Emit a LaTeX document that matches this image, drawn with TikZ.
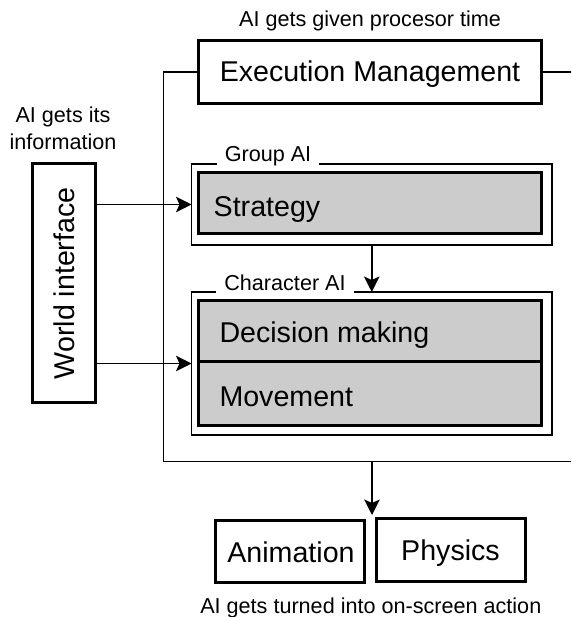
\documentclass[tikz,border=0pt]{standalone}
\usepackage{fontspec}
\setmainfont{Liberation Sans}
\usetikzlibrary{arrows.meta}
\definecolor{boxgray}{HTML}{CCCCCC}
\begin{document}
\begin{tikzpicture}[x=1pt,y=-1pt,
  thickbox/.style={draw,line width=3pt,inner sep=0pt,outer sep=0pt},
  openbox/.style={draw=none,inner sep=0pt,outer sep=0pt},
  thinline/.style={line width=1.5pt},
  big/.style={font=\fontsize{28.6}{32}\selectfont,inner sep=0pt,outer sep=0pt},
  small/.style={font=\fontsize{21.6}{26}\selectfont,inner sep=0pt,outer sep=0pt},
  boxlabel/.style={small,inner xsep=8pt},
  arr/.style={thinline,-{Stealth[length=15.5pt,width=15.5pt,inset=3.5pt]}}
]
\useasboundingbox (0,0) rectangle (571,617);

% top label and execution box
\node[small,anchor=base] (toplbl) at (370,26.7) {AI gets given procesor time};
\node[thickbox,minimum width=342.3pt,minimum height=62.5pt] (exec) at (370,72) {};
\node[big,anchor=base] (exect) at (370,82) {Execution Management};

% outer frame
\coordinate (fbl) at (163.3,461.7);
\coordinate (fbr) at (571,461.7);
\coordinate (fmid) at (372,461.7);
\coordinate (aend) at (372,515);
\draw[thinline] (exec.west) -| (fbl) -- (fbr);
\draw[thinline] (exec.east) -- (exec.east -| fbr);

% group AI
\node[openbox,minimum width=360.5pt,minimum height=81pt] (gout) at (371.75,204.5) {};
\node[boxlabel,anchor=base] (glbl) at (268,162) {Group AI};
\draw[thinline] (glbl.west |- gout.north) -- (gout.north west) -- (gout.south west)
  -- (gout.south east) -- (gout.north east) -- (glbl.east |- gout.north);
\node[thickbox,fill=boxgray,minimum width=343pt,minimum height=61pt] (strat) at (370.2,203.5) {};
\node[big,anchor=base west] (stratt) at (213.7,216.5) {Strategy};

% character AI
\node[openbox,minimum width=360.5pt,minimum height=143pt] (cout) at (371.75,363.5) {};
\node[boxlabel,anchor=base] (clbl) at (285,290) {Character AI};
\draw[thinline] (clbl.west |- cout.north) -- (cout.north west) -- (cout.south west)
  -- (cout.south east) -- (cout.north east) -- (clbl.east |- cout.north);
\node[thickbox,fill=boxgray,minimum width=343pt,minimum height=61.5pt] (dec) at (370.2,330.75) {};
\node[thickbox,fill=boxgray,minimum width=343pt,minimum height=63.5pt] (mov) at (370.2,393.25) {};
\node[big,anchor=base west] (dect) at (219.5,342.5) {Decision making};
\node[big,anchor=base west] (movt) at (219.5,406) {Movement};

% world interface
\node[small,anchor=base] (info1) at (63,123) {AI gets its};
\node[small,anchor=base] (info2) at (63,149.3) {information};
\node[thickbox,minimum width=62.5pt,minimum height=238.3pt] (world) at (64,282.85) {};
\node[big,rotate=90] (worldt) at (64,283.3) {World interface};

% animation / physics
\node[thickbox,minimum width=148.9pt,minimum height=62.4pt] (anim) at (290.25,551.5) {};
\node[big,anchor=base] (animt) at (291,562.7) {Animation};
\node[thickbox,minimum width=149pt,minimum height=62.6pt] (phys) at (450.5,550) {};
\node[big,anchor=base] (physt) at (450.5,560) {Physics};
\node[small,anchor=base] (botlbl) at (370.8,613) {AI gets turned into on-screen action};

% connectors
\draw[arr] (world.east |- gout.west) -- (gout.west);
\draw[arr] (world.east |- cout.west) -- (cout.west);
\draw[arr] (gout.south) -- (cout.north);
\draw[arr] (fmid) -- (aend);
\end{tikzpicture}
\end{document}
